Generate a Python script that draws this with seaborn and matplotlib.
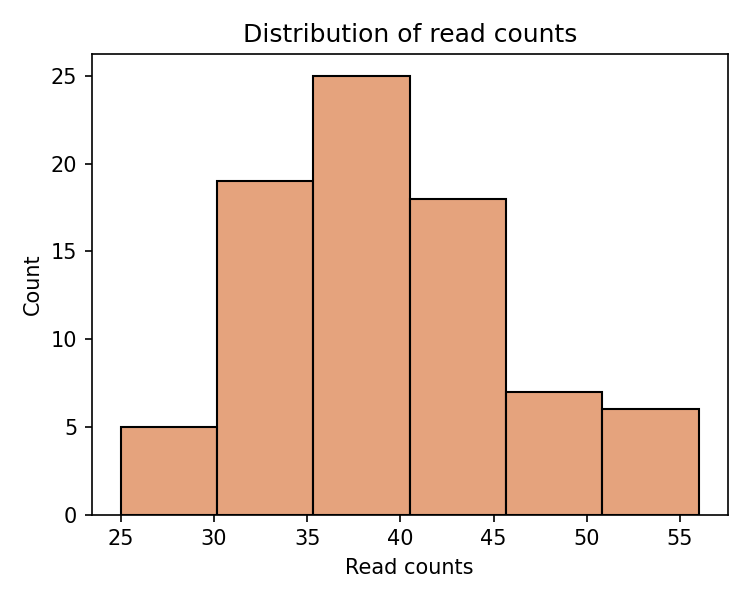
import numpy as np
import pandas as pd
import matplotlib.pyplot as plt
import seaborn as sns

# histogram bins
bin_edges = [25.0, 30.17, 35.33, 40.5, 45.67, 50.83, 56.0]
bin_counts = [5, 19, 25, 18, 7, 6]

centers = [(a + b) / 2 for a, b in zip(bin_edges[:-1], bin_edges[1:])]
data = pd.DataFrame({"reads": centers, "n": bin_counts})

fig, ax = plt.subplots(figsize=(5, 4), dpi=150)
sns.histplot(data=data, x="reads", weights="n", bins=bin_edges,
             color=sns.color_palette("deep")[1], edgecolor="black", ax=ax)

ax.set_title("Distribution of read counts")
ax.set_xlabel("Read counts")
ax.set_ylabel("Count")

plt.tight_layout()
plt.savefig("out.png")
